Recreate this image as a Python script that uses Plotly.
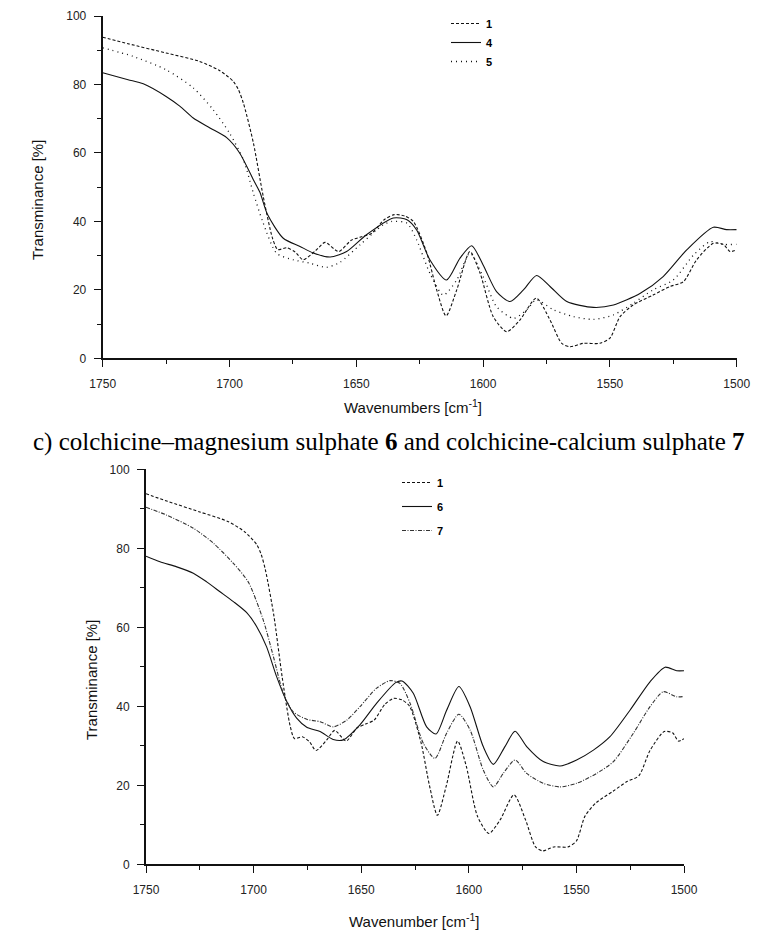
import plotly.graph_objects as go

# ---------------- data ----------------
wn_1 = [1750, 1740, 1725, 1712, 1704, 1698.5, 1696.5, 1694.5, 1690.6, 1686.7, 1683, 1681, 1677.4, 1674,
        1671, 1666, 1662.3, 1657, 1652, 1648, 1644, 1639, 1635, 1631, 1627.5, 1622.2, 1618.3,
        1614.6, 1610.4, 1605.2, 1601.2, 1596, 1590.7, 1585.5, 1579, 1573.6, 1569, 1565.7, 1560.5,
        1554, 1550, 1546, 1540.8, 1533, 1526.3, 1521, 1515.8, 1509.2, 1505.3, 1502.6, 1500]
t_1 = [93.8, 91.9, 89.2, 86.8, 84.1, 80.9, 78.5, 74.5, 63, 47.3, 35, 31.8, 32.3, 31, 28.8, 31.5,
       33.9, 31.2, 34.5, 35.5, 36.5, 40.5, 42, 41.6, 40, 30.8, 20, 12.4, 20, 31.2, 24.9, 12.2,
       7.8, 11.2, 17.6, 11.2, 4.4, 3.4, 4.4, 4.4, 5.9, 12.2, 15.6, 18.5, 21, 22.4, 28.8, 33.6,
       33.3, 31.2, 31.8]

wn_4 = [1750, 1740, 1734, 1725, 1719.5, 1714.3, 1707.7, 1701, 1696, 1690.6, 1688, 1685, 1678.8,
        1672.2, 1667, 1660.3, 1653.8, 1646, 1635.4, 1630, 1626.2, 1621, 1614.4, 1609.1, 1604.5,
        1600, 1594.7, 1589.4, 1584.1, 1578.9, 1573.6, 1567, 1556.5, 1548.6, 1538, 1529, 1519.7,
        1509.2, 1504, 1500]
t_4 = [83.4, 81.4, 80.2, 76.5, 73.6, 70.2, 67.3, 64.4, 60, 52.2, 48.5, 42, 35.1, 32.7, 30.8,
       29.6, 31.2, 36.1, 41, 40.5, 37.5, 28.8, 22.9, 29.3, 32.9, 27.3, 19.5, 16.6, 20, 24.2,
       21, 16.6, 14.9, 15.6, 19, 23.9, 31.7, 38.3, 37.6, 37.6]

wn_5 = [1750, 1738, 1725, 1714.3, 1706.4, 1700, 1694.5, 1690.6, 1686.7, 1681.4, 1674.8, 1668.3,
        1661.7, 1656.4, 1648.5, 1639.4, 1636, 1630, 1626.2, 1621, 1615.7, 1610.4, 1605.2, 1600,
        1594.7, 1588, 1582.8, 1579, 1572.3, 1564.4, 1556.5, 1548.6, 1540.8, 1533, 1525, 1517,
        1510.5, 1505.3, 1500]
t_5 = [90.7, 88.2, 84.3, 79, 72.6, 65.8, 58, 48.3, 39.5, 30.7, 28.8, 27.8, 26.6, 28.1, 33.2, 39,
       40, 39.5, 34.6, 24.9, 18.5, 22.9, 30.7, 23.9, 15.1, 11.7, 14.2, 17.1, 14.2, 12.2, 11.4,
       12.7, 16.1, 20, 22.9, 30.2, 34.1, 33.3, 33.3]

wn_6 = [1750, 1743.5, 1735.7, 1728, 1721.8, 1715.6, 1709.4, 1703.2, 1698.6, 1694, 1689.3, 1684.6,
        1680, 1675.3, 1669.1, 1663, 1658.3, 1650.6, 1642.8, 1634, 1631, 1625.8, 1619.6, 1615.2,
        1610.3, 1604.6, 1599.4, 1593.3, 1588.6, 1583.2, 1578.5, 1573.1, 1565.4, 1557.6, 1549.9,
        1542.1, 1534.4, 1525.1, 1515.8, 1508.8, 1503.4, 1500]
t_6 = [78, 76.6, 75.3, 73.7, 71.5, 69, 66.5, 63.7, 60.2, 55.1, 47.5, 41.2, 37, 34.7, 33.6, 31.6,
       31.5, 35.3, 40.8, 46, 46.4, 43.3, 34.8, 33, 39, 45, 39.9, 29.8, 25.3, 29.8, 33.7, 29.8,
       26, 24.9, 26.4, 28.9, 32.3, 39, 46.2, 49.9, 49, 49]

wn_7 = [1750, 1740.4, 1728, 1718.7, 1709.4, 1702.5, 1695.5, 1690.8, 1686.2, 1681.6, 1675.3, 1669.1,
        1663, 1656.7, 1650.6, 1642.8, 1636.6, 1632, 1627.3, 1621.1, 1615.7, 1610.3, 1604.6,
        1599.4, 1593.3, 1588.6, 1584, 1578.5, 1573.1, 1565.4, 1557.6, 1549.9, 1540.6, 1532.8,
        1523.5, 1515.8, 1509.6, 1503.4, 1500]
t_7 = [90.4, 88.4, 85.1, 81.3, 76.2, 71.5, 61.8, 52.6, 43.3, 38.6, 36.7, 36.1, 34.8, 36.5, 39.9,
       44.6, 46.5, 45.8, 40.8, 30.6, 26.8, 33.2, 38, 34, 23.9, 19.6, 23, 26.4, 23, 20.5, 19.6,
       20.5, 23, 26, 33.2, 39.9, 43.7, 42.4, 42.5]

x_ticks = [1750, 1700, 1650, 1600, 1550, 1500]
y_ticks = [0, 20, 40, 60, 80, 100]

top_names = ["1", "4", "5"]
bottom_names = ["1", "6", "7"]
caption = "c) colchicine\u2013magnesium sulphate <b>6</b> and colchicine-calcium sulphate <b>7</b>"
x_title_top = "Wavenumbers [cm<sup>-1</sup>]"
x_title_bottom = "Wavenumber [cm<sup>-1</sup>]"
y_title = "Transminance [%]"

# ---------------- figure ----------------
# the page body has an 8px margin, so the figure starts 8px in from the window corner
OFF = 8
W, H = 773 - OFF, 930 - OFF


def fx(px):
    return (px - OFF) / W


def fy(py):
    return (H - (py - OFF)) / H


fig = go.Figure()

DASH = "3px,2px"
DOT = "1px,4px"
DASHDOT = "4px,1.5px,1px,1.5px"


def line(x, y, name, dash, xa, ya, leg, color="#111", width=1.1):
    fig.add_trace(go.Scatter(
        x=x, y=y, name=f"<b>{name}</b>", mode="lines",
        line=dict(color=color, width=width, dash=dash, shape="spline", smoothing=0.7),
        xaxis=xa, yaxis=ya, legend=leg, legendgroup=leg + name, showlegend=True,
    ))


line(wn_1, t_1, top_names[0], DASH, "x", "y", "legend")
line(wn_4, t_4, top_names[1], "solid", "x", "y", "legend")
line(wn_5, t_5, top_names[2], DOT, "x", "y", "legend", width=1.3)

line(wn_1, t_1, bottom_names[0], DASH, "x2", "y2", "legend2")
line(wn_6, t_6, bottom_names[1], "solid", "x2", "y2", "legend2")
line(wn_7, t_7, bottom_names[2], DASHDOT, "x2", "y2", "legend2", color="#333")

tickfont = dict(family="Liberation Sans, Arial", size=12, color="#222")


def xaxis(domain, anchor):
    return dict(domain=domain, anchor=anchor, range=[1750, 1500], tickvals=x_ticks,
                ticks="outside", ticklen=7, tickwidth=1.2, tickcolor="#111", automargin=False,
                showline=True, linecolor="#111", linewidth=2, showgrid=False, zeroline=False,
                tickfont=tickfont, ticklabelstandoff=6,
                minor=dict(dtick=25, tick0=1500, ticks="outside", ticklen=4, tickwidth=1.2,
                           tickcolor="#111", showgrid=False))


def yaxis(domain, anchor):
    return dict(domain=domain, anchor=anchor, range=[0, 100], tickvals=y_ticks,
                ticks="outside", ticklen=7, tickwidth=1.2, tickcolor="#111", automargin=False,
                showline=True, linecolor="#111", linewidth=2, showgrid=False, zeroline=False,
                tickfont=tickfont, ticklabelstandoff=5,
                minor=dict(dtick=10, tick0=0, ticks="outside", ticklen=4, tickwidth=1.2,
                           tickcolor="#111", showgrid=False))


legfont = dict(family="Liberation Sans, Arial", size=11, color="#000")

fig.update_layout(
    template="none",
    width=W, height=H,
    margin=dict(l=0, r=0, t=0, b=0, pad=0, autoexpand=False),
    paper_bgcolor="white", plot_bgcolor="white",
    xaxis=xaxis([fx(102.7), fx(736.7)], "y"),
    yaxis=yaxis([fy(358.4), fy(16)], "x"),
    xaxis2=xaxis([fx(146), fx(684)], "y2"),
    yaxis2=yaxis([fy(864.3), fy(469.3)], "x2"),
    legend=dict(x=fx(446), y=fy(9), xanchor="left", yanchor="top",
                bgcolor="rgba(0,0,0,0)", font=legfont, tracegroupgap=0, traceorder="grouped"),
    legend2=dict(x=fx(397), y=fy(468), xanchor="left", yanchor="top",
                 bgcolor="rgba(0,0,0,0)", font=legfont, tracegroupgap=5, traceorder="grouped"),
    annotations=[
        dict(text=caption, x=fx(389), y=fy(442), xref="paper", yref="paper",
             showarrow=False, xanchor="center", yanchor="middle",
             font=dict(family="Liberation Serif, Times New Roman", size=25, color="#000")),
        dict(text=x_title_top, x=fx(413), y=fy(406), xref="paper", yref="paper",
             showarrow=False, xanchor="center", yanchor="middle",
             font=dict(family="Liberation Sans, Arial", size=15, color="#111")),
        dict(text=x_title_bottom, x=fx(414), y=fy(920), xref="paper", yref="paper",
             showarrow=False, xanchor="center", yanchor="middle",
             font=dict(family="Liberation Sans, Arial", size=15, color="#111")),
        dict(text=y_title, x=fx(38), y=fy(200), xref="paper", yref="paper",
             showarrow=False, xanchor="center", yanchor="middle", textangle=-90,
             font=dict(family="Liberation Sans, Arial", size=15, color="#111")),
        dict(text=y_title, x=fx(92), y=fy(680), xref="paper", yref="paper",
             showarrow=False, xanchor="center", yanchor="middle", textangle=-90,
             font=dict(family="Liberation Sans, Arial", size=15, color="#111")),
    ],
)

fig.write_html("out.html")
